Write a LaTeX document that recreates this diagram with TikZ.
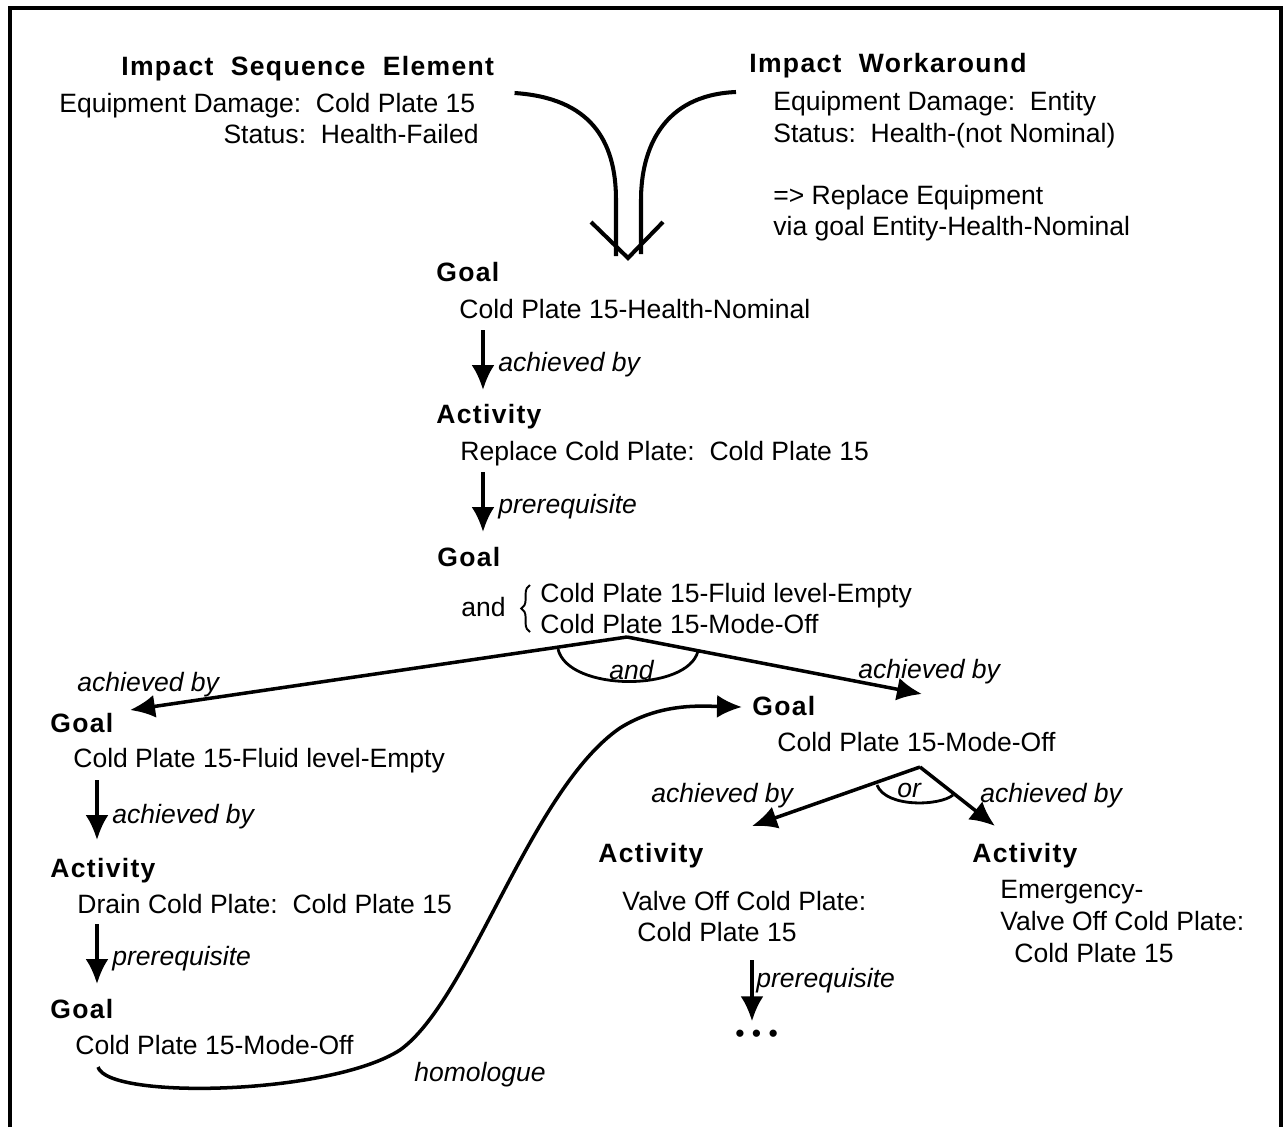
\documentclass[tikz,border=0pt]{standalone}
\usepackage{fontspec}
\setmainfont{Liberation Sans}
\newfontfamily\headfont{Liberation Sans}[LetterSpace=5]
\usetikzlibrary{arrows.meta,calc,decorations.pathreplacing}
\newcommand{\bodysize}{\fontsize{15.1}{18}\selectfont}
\tikzset{
  txt/.style={anchor=base west, inner sep=0pt, font=\bodysize},
  head/.style={txt, font=\bodysize\headfont\bfseries},
  lbl/.style={txt, font=\bodysize\itshape},
  link/.style={line width=2pt},
  arr/.style={link, -{Latex[length=0.5cm,width=0.46cm]}}
}
\begin{document}
\begin{tikzpicture}[x=0.02cm,y=-0.02cm]
  \useasboundingbox (0,0) rectangle (1284,1127);
  % frame, open at the bottom
  \draw[line width=1.8pt] (10,1127) -- (10,8) -- (1281,8) -- (1281,1127);

  % the two impacts
  \node[head] (ise) at (121,75) {Impact\ \ Sequence\ \ Element};
  \node[txt] (iseA) at (59,112) {Equipment Damage:\ \ Cold Plate 15};
  \node[txt, anchor=base east] (iseB) at (479,143) {Status:\ \ Health-Failed};
  \node[head] (iw) at (749,72) {Impact\ \ Workaround};
  \node[txt] (iwA) at (773,110) {Equipment Damage:\ \ Entity};
  \node[txt] (iwB) at (773,142) {Status:\ \ Health-(not Nominal)};
  \node[txt] (iwC) at (773,204) {=> Replace Equipment};
  \node[txt] (iwD) at (773,235) {via goal Entity-Health-Nominal};

  % merging arrow
  \coordinate (merge) at (628,258);
  \draw[link, line width=2.3pt] ($(iseA.base east)+(39,-19)$) .. controls (590,98) and (616,140) .. (616,200) -- (616,256);
  \draw[link, line width=2.3pt] ($(iwA.base west)+(-37,-18)$) .. controls (662,95) and (641,150) .. (641,200) -- (641,254);
  \draw[link, line width=2.3pt] ($(merge)+(-37,-36)$) -- (merge) -- ($(merge)+(35,-36)$);

  % main chain
  \node[head] (g1) at (436,281) {Goal};
  \node[txt] (g1t) at (459,318) {Cold Plate 15-Health-Nominal};
  \node[head] (a1) at (436,423) {Activity};
  \node[txt] (a1t) at (460,460) {Replace Cold Plate:\ \ Cold Plate 15};
  \node[head] (g2) at (437,566) {Goal};
  \node[txt] (g2and) at (461,616) {and};
  \node[txt] (g2a) at (540,602) {Cold Plate 15-Fluid level-Empty};
  \node[txt] (g2b) at (540,633) {Cold Plate 15-Mode-Off};
  \draw[decorate, decoration={brace, amplitude=5pt}, line width=1.1pt]
    ($(g2b.base west)+(-10,-1)$) -- ($(g2a.base west)+(-10,-17)$);

  \draw[arr] ($(g1t.base west)+(24,12)$) -- ($(a1.base west)+(47,-33)$);
  \node[lbl] (l1) at (498,371) {achieved by};
  \draw[arr] ($(a1t.base west)+(23,12)$) -- ($(g2.base west)+(46,-34)$);
  \node[lbl] (l2) at (498,513) {prerequisite};

  % split into two goals
  \coordinate (andtop) at (627,637);
  \node[head] (g3) at (50,732) {Goal};
  \node[txt] (g3t) at (73,767) {Cold Plate 15-Fluid level-Empty};
  \node[head] (g5) at (752,715) {Goal};
  \node[txt] (g5t) at (777,751) {Cold Plate 15-Mode-Off};
  \draw[arr] (andtop) -- ($(g3.base west)+(80,-22)$);
  \draw[arr] (andtop) -- ($(g5.base west)+(170,-21)$);
  \node[lbl] (l3) at (77,691) {achieved by};
  \node[lbl] (l4) at (858,678) {achieved by};
  \draw[line width=1.6pt] (558,649) .. controls (568,692) and (688,692) .. (698,651);
  \node[lbl] (land) at (609,679) {and};

  % left branch
  \node[head] (a2) at (50,877) {Activity};
  \node[txt] (a2t) at (77,913) {Drain Cold Plate:\ \ Cold Plate 15};
  \node[head] (g4) at (50,1018) {Goal};
  \node[txt] (g4t) at (75,1054) {Cold Plate 15-Mode-Off};
  \draw[arr] ($(g3t.base west)+(24,13)$) -- ($(a2.base west)+(47,-37)$);
  \node[lbl] (l5) at (112,823) {achieved by};
  \draw[arr] ($(a2t.base west)+(20,11)$) -- ($(g4.base west)+(47,-34)$);
  \node[lbl] (l6) at (112,965) {prerequisite};

  % homologue link
  \draw[arr] ($(g4t.base west)+(23,13)$) .. controls (108,1100) and (330,1095) .. (400,1050)
    .. controls (470,1000) and (530,790) .. (620,728)
    .. controls (660,703) and (700,706) .. ($(g5.base west)+(-10,-8)$);
  \node[lbl] (l7) at (414,1081) {homologue};

  % right branch
  \coordinate (ortop) at (920,767);
  \node[head] (a3) at (598,862) {Activity};
  \node[txt] (a3t) at (622,910) {Valve Off Cold Plate:};
  \node[txt] (a3u) at (637,941) {Cold Plate 15};
  \node[head] (a4) at (972,862) {Activity};
  \node[txt] (a4t) at (1000,898) {Emergency-};
  \node[txt] (a4u) at (1000,930) {Valve Off Cold Plate:};
  \node[txt] (a4v) at (1014,962) {Cold Plate 15};
  \draw[arr] (ortop) -- ($(a3.base west)+(154,-36)$);
  \draw[arr] (ortop) -- ($(a4.base west)+(23,-36)$);
  \node[lbl] (l8) at (651,802) {achieved by};
  \node[lbl] (l9) at (980,802) {achieved by};
  \draw[line width=1.6pt] (877,785) .. controls (886,808) and (940,806) .. (953,795);
  \node[lbl] (lor) at (897,797) {or};

  \node[txt] (more) at (735,1042) {\textbullet\ \textbullet\ \textbullet};
  \draw[arr] ($(a3u.base west)+(115,19)$) -- ($(more.north west)+(17,-8)$);
  \node[lbl] (l10) at (756,987) {prerequisite};
\end{tikzpicture}
\end{document}
